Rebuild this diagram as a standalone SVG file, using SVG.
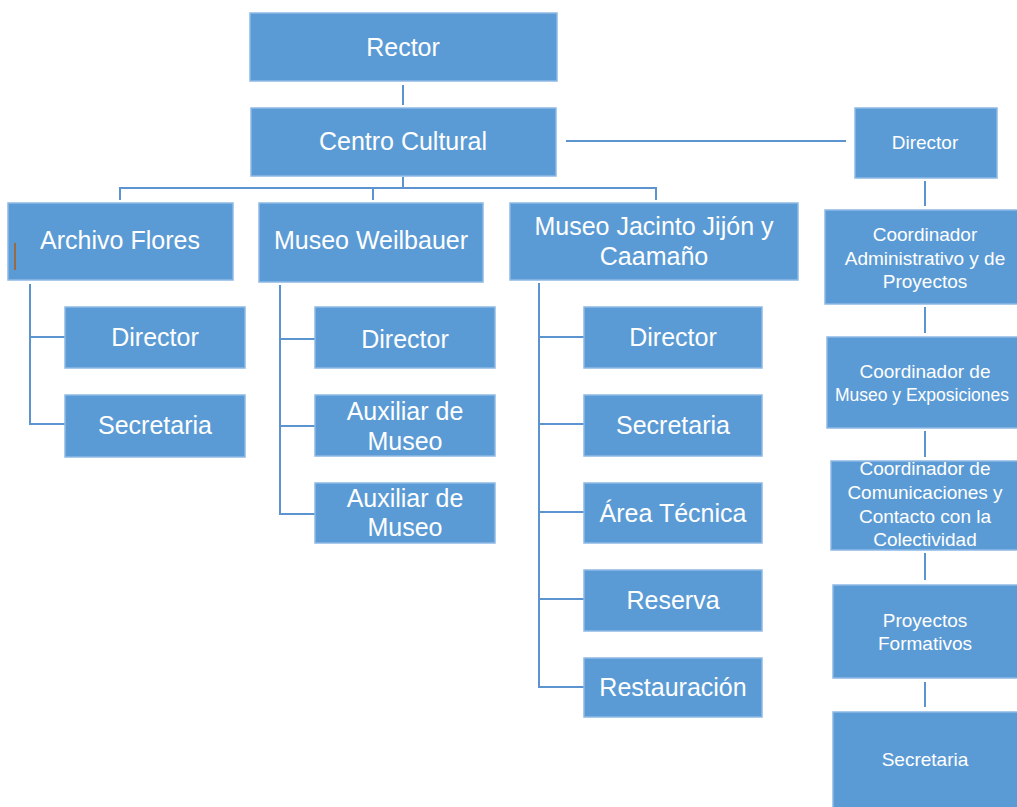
<svg xmlns="http://www.w3.org/2000/svg" width="1017" height="807" viewBox="0 0 1017 807">
<style>
.box{fill:#5B9BD5;stroke:#8DB9E3;stroke-width:1.5}
.t{fill:#fff;font-family:"Liberation Sans",Arial,sans-serif;font-size:25px;text-anchor:middle;dominant-baseline:central}
.s{fill:#fff;font-family:"Liberation Sans",Arial,sans-serif;font-size:19px;text-anchor:middle;dominant-baseline:central}
.c{fill:none;stroke:#5B94CF;stroke-width:2}
</style>
<rect width="1017" height="807" fill="#fff"/>
<g id="connectors">
<path class="c" d="M403,85V105"/>
<path class="c" d="M566,141H846"/>
<path class="c" d="M403,177V188M120,200V188H656V200M373,188V200"/>
<path class="c" d="M30,284V424H65M30,337H65"/>
<path class="c" d="M280,285V514H315M280,339H315M280,426H315"/>
<path class="c" d="M539,283V687H584M539,337H584M539,424H584M539,512H584M539,599H584"/>
<path class="c" d="M925,181V206M925,307V333M925,431V457M925,553V580M925,682V707"/>
</g>
<g id="rector"><rect class="box" x="250" y="13" width="307" height="68"/><text class="t" x="403" y="47">Rector</text></g>
<g id="centro"><rect class="box" x="251" y="108" width="305" height="68"/><text class="t" x="403" y="141">Centro Cultural</text></g>
<g id="archivo"><rect class="box" x="8" y="203" width="225" height="77"/><text class="t" x="120" y="240">Archivo Flores</text><rect x="14" y="243" width="2" height="27" fill="#9C6A3E"/></g>
<g id="weilbauer"><rect class="box" x="259" y="203" width="224" height="79"/><text class="t" x="371" y="240">Museo Weilbauer</text></g>
<g id="jacinto"><rect class="box" x="510" y="203" width="288" height="77"/><text class="t" x="654" y="226">Museo Jacinto Jijón y</text><text class="t" x="654" y="256">Caamaño</text></g>
<g id="af-director"><rect class="box" x="65" y="307" width="180" height="61"/><text class="t" x="155" y="337">Director</text></g>
<g id="af-secretaria"><rect class="box" x="65" y="395" width="180" height="62"/><text class="t" x="155" y="425">Secretaria</text></g>
<g id="mw-director"><rect class="box" x="315" y="307" width="180" height="61"/><text class="t" x="405" y="339">Director</text></g>
<g id="mw-aux1"><rect class="box" x="315" y="395" width="180" height="61"/><text class="t" x="405" y="411">Auxiliar de</text><text class="t" x="405" y="441">Museo</text></g>
<g id="mw-aux2"><rect class="box" x="315" y="483" width="180" height="60"/><text class="t" x="405" y="498">Auxiliar de</text><text class="t" x="405" y="527">Museo</text></g>
<g id="mj-director"><rect class="box" x="584" y="307" width="178" height="61"/><text class="t" x="673" y="337">Director</text></g>
<g id="mj-secretaria"><rect class="box" x="584" y="395" width="178" height="61"/><text class="t" x="673" y="425">Secretaria</text></g>
<g id="mj-area"><rect class="box" x="584" y="483" width="178" height="60"/><text class="t" x="673" y="513">Área Técnica</text></g>
<g id="mj-reserva"><rect class="box" x="584" y="570" width="178" height="61"/><text class="t" x="673" y="600">Reserva</text></g>
<g id="mj-restauracion"><rect class="box" x="584" y="658" width="178" height="59"/><text class="t" x="673" y="687">Restauración</text></g>
<g id="r-director"><rect class="box" x="855" y="108" width="142" height="70"/><text class="s" x="925" y="142">Director</text></g>
<g id="r-coord-admin"><rect class="box" x="825" y="210" width="200" height="94"/><text class="s" x="925" y="234">Coordinador</text><text class="s" x="925" y="258">Administrativo y de</text><text class="s" x="925" y="281">Proyectos</text></g>
<g id="r-coord-museo"><rect class="box" x="827" y="337" width="200" height="91"/><text class="s" x="925" y="371">Coordinador de</text><text class="s" x="922" y="395" style="font-size:17.5px">Museo y Exposiciones</text></g>
<g id="r-coord-com"><rect class="box" x="831" y="461" width="200" height="89"/><text class="s" x="925" y="468">Coordinador de</text><text class="s" x="925" y="492">Comunicaciones y</text><text class="s" x="925" y="516">Contacto con la</text><text class="s" x="925" y="539">Colectividad</text></g>
<g id="r-proyectos"><rect class="box" x="833" y="585" width="200" height="93"/><text class="s" x="925" y="620">Proyectos</text><text class="s" x="925" y="643">Formativos</text></g>
<g id="r-secretaria"><rect class="box" x="833" y="712" width="200" height="100"/><text class="s" x="925" y="759">Secretaria</text></g>
</svg>
